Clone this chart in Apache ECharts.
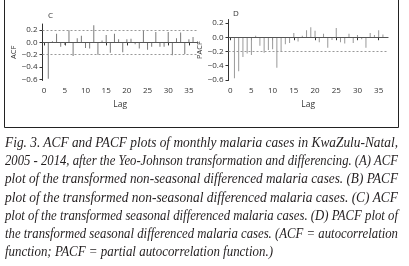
<!DOCTYPE html>
<html>
<head>
<meta charset="utf-8">
<script src="https://cdn.jsdelivr.net/npm/echarts@6/dist/echarts.min.js"></script>
<style>
html,body{margin:0;padding:0;background:#fff;}
#chart{width:409px;height:266px;position:absolute;left:0;top:0;}
#caption{position:absolute;left:5px;top:134px;width:393px;font-family:"Liberation Serif",serif;font-style:italic;font-size:13.6px;line-height:18.2px;color:#231f20;}
#caption span{display:block;width:max-content;white-space:nowrap;transform-origin:0 0;}
</style>
</head>
<body>
<div id="chart"></div>
<div id="caption">
<span>Fig. 3. ACF and PACF plots of monthly malaria cases in KwaZulu-Natal,</span>
<span>2005 - 2014, after the Yeo-Johnson transformation and differencing. (A) ACF</span>
<span>plot of the transformed non-seasonal differenced malaria cases. (B) PACF</span>
<span>plot of the transformed non-seasonal differenced malaria cases. (C) ACF</span>
<span>plot of the transformed seasonal differenced malaria cases. (D) PACF plot of</span>
<span>the transformed seasonal differenced malaria cases. (ACF = autocorrelation</span>
<span>function; PACF = partial autocorrelation function.)</span>
</div>
<script>
// lags 1..36
const lags = [1,2,3,4,5,6,7,8,9,10,11,12,13,14,15,16,17,18,19,20,21,22,23,24,25,26,27,28,29,30,31,32,33,34,35,36];
// panel C: ACF, seasonal differenced
const acfC = [-0.59,0.02,0.14,-0.07,-0.04,0.2,-0.22,0.07,0.11,-0.09,-0.1,0.28,-0.2,0.03,0.12,-0.17,0.14,0.05,-0.16,0.05,0.06,-0.03,-0.1,0.2,-0.12,-0.07,0.17,-0.07,-0.07,0.17,-0.21,0.07,0.16,-0.19,0.05,0.09];
// panel D: PACF, seasonal differenced
const pacfD = [-0.58,-0.48,-0.28,-0.23,-0.25,0.02,-0.12,-0.22,-0.18,-0.17,-0.43,-0.2,-0.1,-0.08,0.06,-0.06,0.02,0.1,0.14,0.09,-0.07,0.05,-0.15,-0.04,0.13,-0.07,-0.09,0.05,-0.08,0.03,-0.03,-0.15,0.06,0.03,0.1,0.04];
const boundsC = [0.2, -0.2];
const boundsD = [-0.2];
const xTicks = [0,5,10,15,20,25,30,35];
const yTicks = [-0.6,-0.4,-0.2,0,0.2];

// caption: fit every full line to 393px (justified look), last line ~268px
const capLines = document.querySelectorAll('#caption span');
capLines.forEach((el, i) => {
  const w = el.getBoundingClientRect().width;
  const target = i === capLines.length - 1 ? 268 : 393;
  el.style.transform = 'scaleX(' + (target / w) + ')';
});

const chart = echarts.init(document.getElementById('chart'));
const fmt = v => (v < 0 ? '\u2212' : '') + Math.abs(v).toFixed(1);
const labelStyle = {color:'#333', fontSize:8, fontFamily:'Open Sans'};

function xAx(gi){
  return {
    type:'value', gridIndex:gi, min:-0.4, max:37.2,
    name:'Lag', nameLocation:'middle', nameGap:20,
    nameTextStyle:{color:'#333', fontSize:8.5, fontFamily:'Open Sans'},
    axisLine:{lineStyle:{color:'#333', width:1}},
    axisTick:{length:3, customValues:xTicks, lineStyle:{color:'#333'}},
    axisLabel:Object.assign({customValues:xTicks, margin:6}, labelStyle),
    splitLine:{show:false}
  };
}
function yAx(gi, name, min, max){
  return {
    type:'value', gridIndex:gi, min:min, max:max,
    name:name, nameLocation:'middle', nameGap:25, nameRotate:90,
    nameTextStyle:{color:'#333', fontSize:7.5, fontFamily:'Open Sans'},
    axisLine:{onZero:false, lineStyle:{color:'#333', width:1}},
    axisTick:{length:3, customValues:yTicks, lineStyle:{color:'#333'}},
    axisLabel:Object.assign({customValues:yTicks, margin:5, formatter:fmt}, labelStyle),
    splitLine:{show:false}
  };
}
function spikes(data, gi, color, bounds){
  return {
    type:'bar', xAxisIndex:gi, yAxisIndex:gi, barWidth:1,
    itemStyle:{color:color},
    data:lags.map((l,i)=>[l, data[i]]),
    silent:true,
    markLine:{
      symbol:'none', silent:true, label:{show:false},
      data:[{yAxis:0, lineStyle:{color:'#555', type:'solid', width:1}}].concat(
        bounds.map(b=>({yAxis:b, lineStyle:{color:'#999', type:[2,2], width:1}})))
    }
  };
}

chart.setOption({
  animation:false,
  backgroundColor:'#fff',
  title:[
    {text:'C', left:43, top:7, textStyle:{fontSize:8, fontWeight:'normal', color:'#333', fontFamily:'Open Sans'}},
    {text:'D', left:228, top:5, textStyle:{fontSize:8, fontWeight:'normal', color:'#333', fontFamily:'Open Sans'}}
  ],
  graphic:[{type:'rect', shape:{x:4.5, y:-2, width:394, height:129.5}, style:{fill:'none', stroke:'#222', lineWidth:1}, silent:true}],
  grid:[
    {left:42.5, top:24, width:155.5, height:56.5},
    {left:228.5, top:19.5, width:159.5, height:61}
  ],
  xAxis:[xAx(0), xAx(1)],
  yAxis:[yAx(0,'ACF',-0.62,0.3), yAx(1,'PACF',-0.61,0.25)],
  series:[spikes(acfC,0,'#7a7a7a',boundsC), spikes(pacfD,1,'#999',boundsD)]
});
</script>
</body>
</html>
